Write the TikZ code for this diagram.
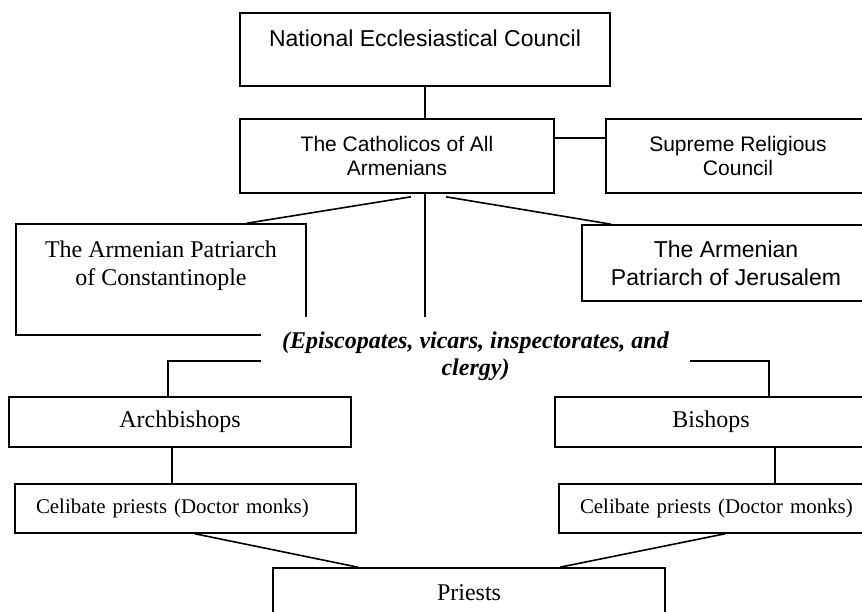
\documentclass[tikz,border=0pt]{standalone}
\usepackage{fontspec}
\setmainfont{Liberation Serif}
\newfontfamily\sansbox{Liberation Sans}

\begin{document}
\begin{tikzpicture}[x=1pt,y=-1pt,
    orgbox/.style={draw, line width=1.6pt, inner sep=0pt, align=center},
    serifbig/.style={font=\fontsize{24}{28}\selectfont},
    sansbig/.style={font=\sansbox\fontsize{23}{28}\selectfont},
    sanssmall/.style={font=\sansbox\fontsize{21}{24}\selectfont},
    celibate/.style={orgbox, inner xsep=21pt, text width=299pt, align=left,
        minimum height=49pt, font=\fontsize{20.9}{25}\selectfont}]

    \useasboundingbox (0,0) rectangle (862,612);
    \clip (0,0) rectangle (862,612);

    % boxes
    \node[orgbox, sansbig, text height=34pt, text depth=39pt, minimum width=370pt] (nec) at (425,49.5) {National Ecclesiastical Council};
    \node[orgbox, sanssmall, minimum width=314pt, minimum height=74pt] (cat) at (397,156) {The Catholicos of All\\Armenians};
    \node[orgbox, sanssmall, minimum width=264pt, minimum height=74pt] (sup) at (738,156) {Supreme Religious\\Council};
    \node[orgbox, minimum width=290pt, minimum height=111pt] (con) at (161,279.5) {};
    \node[serifbig, align=center, inner sep=0pt] (cont) at (161,265.5) {The Armenian Patriarch\\of Constantinople};
    \node[orgbox, sansbig, minimum width=288pt, minimum height=76pt] (jer) at (726,263) {The Armenian\\Patriarch of Jerusalem};

    % middle text, covers the corner of the box behind it
    \node[fill=white, inner sep=0pt, align=center, minimum width=429pt, minimum height=79pt,
        font=\bfseries\itshape\fontsize{24}{27}\selectfont] (epi) at (475.5,356.5)
        {(Episcopates, vicars, inspectorates, and\\clergy)};

    \node[orgbox, serifbig, minimum width=342pt, minimum height=50pt] (arb) at (180,422) {Archbishops};
    \node[orgbox, serifbig, minimum width=312pt, minimum height=50pt] (bsh) at (711,422) {Bishops};
    \node[celibate] (cl) at (185.5,508.5) {Celibate priests (Doctor monks)};
    \node[celibate] (cr) at (729.5,508.5) {Celibate priests (Doctor monks)};
    \node[orgbox, serifbig, text height=32pt, text depth=48pt, minimum width=392pt] (pr) at (469,608) {Priests};

    % links
    \draw[line width=1.6pt] (nec.south) -- (nec.south |- cat.north); % council -> catholicos
    \draw[line width=1.6pt] ([yshift=18pt]cat.east) -- ([yshift=18pt]sup.west); % catholicos -> supreme
    \draw[line width=1.6pt] ([xshift=14pt,yshift=-3pt]cat.south) -- ([xshift=86pt]con.north); % -> constantinople
    \draw[line width=1.6pt] (nec.south |- cat.south) -- (nec.south |- epi.north); % -> episcopates
    \draw[line width=1.6pt] ([xshift=49pt,yshift=-3pt]cat.south) -- ([xshift=-115pt]jer.north); % -> jerusalem
    \draw[line width=1.6pt] (epi.west) ++(0,4.5) -| ([xshift=-12pt]arb.north); % -> archbishops
    \draw[line width=1.6pt] (epi.east) ++(0,4.5) -| ([xshift=58pt]bsh.north); % -> bishops
    \draw[line width=1.6pt] ([xshift=-8pt]arb.south) -- ([xshift=-13.5pt]cl.north); % archbishops -> celibate
    \draw[line width=1.6pt] ([xshift=64pt]bsh.south) -- ([xshift=45.5pt]cr.north); % bishops -> celibate
    \draw[line width=1.6pt] ([xshift=9.5pt]cl.south) -- ([xshift=-111pt]pr.north); % celibate -> priests
    \draw[line width=1.6pt] ([xshift=-4.5pt]cr.south) -- ([xshift=91pt]pr.north); % celibate -> priests

\end{tikzpicture}
\end{document}
